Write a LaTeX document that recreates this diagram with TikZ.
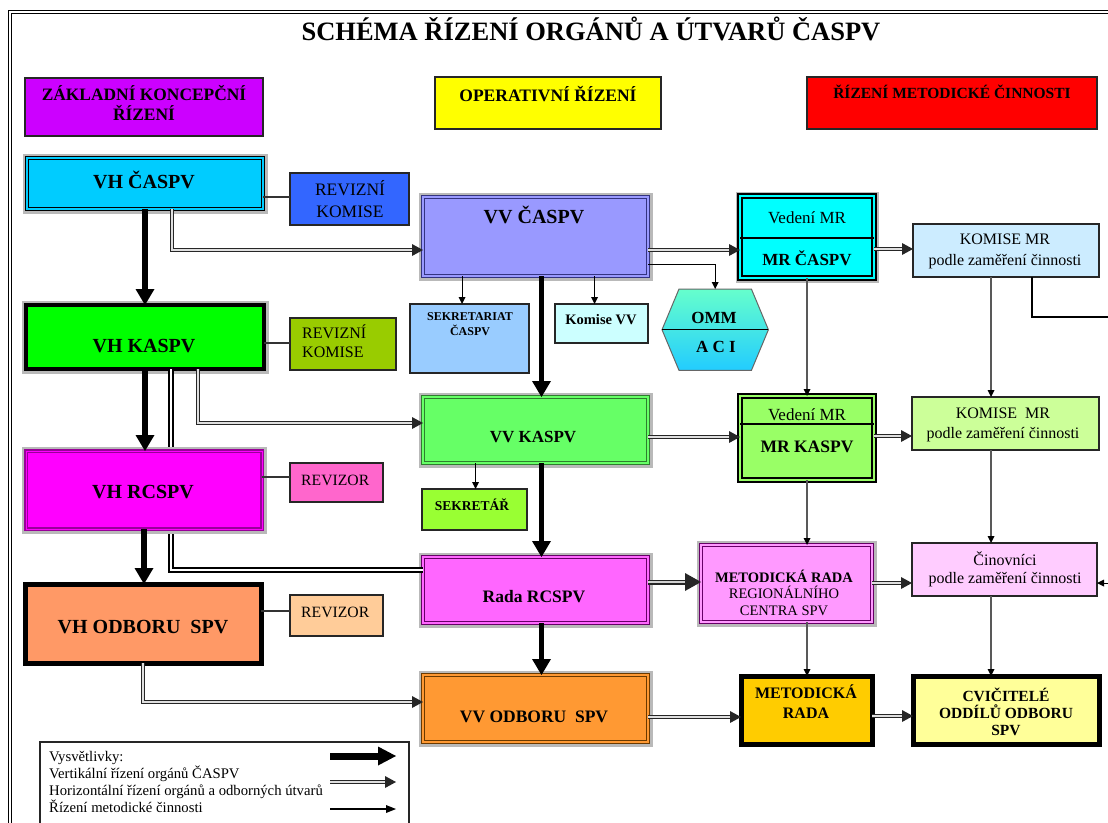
\documentclass[tikz,border=0pt]{standalone}
\usepackage{fontspec}
\setmainfont{Liberation Serif}
\usetikzlibrary{arrows.meta,calc}
\definecolor{cPur}{HTML}{CC00FF}
\definecolor{cYel}{HTML}{FFFF00}
\definecolor{cRed}{HTML}{FF0000}
\definecolor{cVhc}{HTML}{00CCFF}
\definecolor{cRk1}{HTML}{3366FF}
\definecolor{cVhk}{HTML}{00FF00}
\definecolor{cRk2}{HTML}{99CC00}
\definecolor{cVhr}{HTML}{FF00FF}
\definecolor{cRv1}{HTML}{FF66CC}
\definecolor{cVho}{HTML}{FF9966}
\definecolor{cRv2}{HTML}{FFCC99}
\definecolor{cVvc}{HTML}{9999FF}
\definecolor{cSek}{HTML}{99CCFF}
\definecolor{cKvv}{HTML}{CCFFFF}
\definecolor{cHexT}{HTML}{66FFCC}
\definecolor{cHexB}{HTML}{22CCFF}
\definecolor{cVvk}{HTML}{66FF66}
\definecolor{cSk}{HTML}{99FF33}
\definecolor{cRada}{HTML}{FF66FF}
\definecolor{cVvo}{HTML}{FF9933}
\definecolor{cMrc}{HTML}{00FFFF}
\definecolor{cMrk}{HTML}{99FF66}
\definecolor{cMrr}{HTML}{FF99FF}
\definecolor{cMr}{HTML}{FFCC00}
\definecolor{cKm1}{HTML}{CCECFF}
\definecolor{cKm2}{HTML}{CCFF99}
\definecolor{cCin}{HTML}{FFCCFF}
\definecolor{cCvi}{HTML}{FFFF99}
\definecolor{bBlue}{HTML}{333380}
\definecolor{bGreen}{HTML}{2E7D2E}
\definecolor{bPur}{HTML}{660066}
\definecolor{bPur2}{HTML}{990099}
\definecolor{bBrown}{HTML}{6B3A00}
\newcommand\fsz[2]{\fontsize{#1pt}{#2pt}\selectfont}
\newcommand\mkbox[6][]{\node[bx,#1,minimum width={(#5-#3)*1pt},minimum height={(#6-#4)*1pt}] (#2) at (#3,#4) {};}
\newcommand\halo[4]{\draw[gray!55,line width=9pt] (#1,#2) rectangle (#3,#4);}
\newcommand\dconn[3]{\draw[#1] #3; \draw[#2] #3;}
\tikzset{
  bx/.style={rectangle, inner sep=0pt, outer sep=0pt, anchor=north west, draw=black!85, line width=1.2pt},
  tx/.style={inner sep=0pt, anchor=base, align=center},
  txl/.style={inner sep=0pt, anchor=base west, align=left},
  ln/.style={draw=black!80, line width=1.2pt},
  vth/.style={draw=black, line width=5.5pt, -{Triangle[length=16pt,width=19pt,line width=0pt]}},
  tha/.style={draw=black!65, line width=1.3pt, -{Triangle[length=7pt,width=7pt,line width=0pt,color=black]}},
  thb/.style={draw=black, line width=1pt, -{Triangle[length=7pt,width=7pt,line width=0pt]}},
  dO/.style={draw=black!85, line width=4pt, -{Triangle[length=11pt,width=12pt,line width=0pt]}},
  dI/.style={draw=gray!25, line width=1.4pt, shorten >=11pt},
  dOB/.style={draw=black!85, line width=5pt, -{Triangle[length=16pt,width=18pt,line width=0pt]}},
  dIB/.style={draw=gray!35, line width=1.6pt, shorten >=16pt},
  dON/.style={draw=black, line width=6pt},
  dIN/.style={draw=white, line width=2pt},
}
\begin{document}
\begin{tikzpicture}[x=1pt,y=-1pt]
\useasboundingbox (0,0) rectangle (1108,822);
% outer frame
\draw[line width=1.2pt, double, double distance=2pt] (10,12) rectangle (1130,850);
\node[tx,font=\bfseries\fsz{26.5}{30}] (title) at (591,40) {SCHÉMA ŘÍZENÍ ORGÁNŮ A ÚTVARŮ ČASPV};

% headers
\mkbox[fill=cPur]{h1}{25}{78}{263}{136}
\mkbox[fill=cYel]{h2}{435}{77}{661}{129}
\mkbox[fill=cRed]{h3}{807}{77}{1097}{129}
\node[tx,font=\bfseries\fsz{17.4}{20}] (th1) at (144,120) {ZÁKLADNÍ KONCEPČNÍ\\ŘÍZENÍ};
\node[tx,font=\bfseries\fsz{17.5}{20}] (th2) at (548,101) {OPERATIVNÍ ŘÍZENÍ};
\node[tx,font=\bfseries\fsz{15.5}{18}] (th3) at (952,98) {ŘÍZENÍ METODICKÉ ČINNOSTI};

% left column
\halo{27}{158}{263}{209}
\mkbox[fill=cVhc,draw=black,line width=1.6pt,double=cVhc,double distance=1.3pt]{vhc}{27}{158}{263}{209}
\mkbox[fill=cRk1]{rk1}{290}{173}{409}{225}
\halo{26}{305}{264}{369}
\mkbox[fill=cVhk,draw=black,line width=4.5pt]{vhk}{26}{305}{264}{369}
\mkbox[fill=cRk2]{rk2}{290}{318}{396}{370}

% long double connector VH KASPV -> Rada RCSPV (passes behind VH RCSPV)
\halo{423}{557}{648}{623}
\mkbox[fill=cRada,draw=bPur,line width=1.2pt,double=cRada,double distance=1.2pt]{rada}{423}{557}{648}{623}
\coordinate (c3) at ($(vhk.south)+(26,0)$);
\coordinate (c3e) at ($(rada.west)+(0,-20)$);
\dconn{dON}{dIN}{(c3) |- (c3e)}

\halo{26}{451}{262}{529}
\mkbox[fill=cVhr,draw=bPur2,line width=1.3pt,double=cVhr,double distance=1pt]{vhr}{26}{451}{262}{529}
\mkbox[fill=cRv1]{rv1}{290}{463}{383}{502}
\mkbox[fill=cVho,draw=black,line width=5pt]{vho}{25}{584}{261}{663}
\mkbox[fill=cRv2]{rv2}{290}{595}{383}{636}

% middle column
\halo{423}{197}{648}{276}
\mkbox[fill=cVvc,draw=bBlue,line width=1.2pt,double=cVvc,double distance=1.2pt]{vvc}{423}{197}{648}{276}
\mkbox[fill=cSek]{sek}{410}{304}{529}{373}
\mkbox[fill=cKvv]{kvv}{555}{304}{648}{343}
\node[rectangle,inner sep=0pt,anchor=north west,minimum width=106pt,minimum height=81pt] (omm) at (662,289) {};
\path[draw=black!60,line width=1pt,top color=cHexT,bottom color=cHexB]
  ($(omm.north west)+(17,0)$) -- ($(omm.north east)+(-17,0)$) -- (omm.east)
  -- ($(omm.south east)+(-17,0)$) -- ($(omm.south west)+(17,0)$) -- (omm.west) -- cycle;
\draw[black,line width=1pt] (omm.west) -- (omm.east);
\halo{423}{397}{648}{463}
\mkbox[fill=cVvk,draw=bGreen,line width=1.2pt,double=cVvk,double distance=1.2pt]{vvk}{423}{397}{648}{463}
\mkbox[fill=cSk]{sk}{422}{489}{527}{530}
\halo{423}{675}{648}{742}
\mkbox[fill=cVvo,draw=bBrown,line width=1.2pt,double=cVvo,double distance=1.2pt]{vvo}{423}{675}{648}{742}

% right-middle column
\halo{740}{196}{874}{278}
\mkbox[fill=cMrc,draw=black,line width=1.8pt,double=cMrc,double distance=1.5pt]{mrc}{740}{196}{874}{278}
\draw[black,line width=1.2pt] ($(mrc.north west)+(0,42)$) -- ($(mrc.north east)+(0,42)$);
\mkbox[fill=cMrk,draw=black,line width=2.2pt,double=cMrk,double distance=1.5pt]{mrk}{740}{396}{874}{480}
\draw[black,line width=1.2pt] ($(mrk.north west)+(0,28)$) -- ($(mrk.north east)+(0,28)$);
\halo{701}{545}{872}{622}
\mkbox[fill=cMrr,draw=bPur,line width=1.2pt,double=cMrr,double distance=1.2pt]{mrr}{701}{545}{872}{622}
\mkbox[fill=cMr,draw=black,line width=5pt]{mr}{741}{676}{872}{744}

% right column
\mkbox[fill=cKm1]{km1}{913}{224}{1099}{277}
\mkbox[fill=cKm2]{km2}{912}{397}{1099}{450}
\mkbox[fill=cCin]{cin}{912}{543}{1097}{596}
\mkbox[fill=cCvi,draw=black,line width=5pt]{cvi}{913}{676}{1099}{744}

% legend box
\mkbox[fill=white,draw=black!85,line width=1.2pt]{leg}{40}{742}{409}{840}

% ---- connectors ----
\coordinate (k1) at ($(rk1.west)+(0,-2)$);
\draw[ln] (vhc.east |- k1) -- (k1);
\coordinate (k2) at ($(rk2.west)+(0,-1)$);
\draw[ln] (vhk.east |- k2) -- (k2);
\coordinate (k3) at ($(rv1.west)+(0,-5.5)$);
\draw[ln] (vhr.east |- k3) -- (k3);
\coordinate (k4) at ($(rv2.west)+(0,-4.5)$);
\draw[ln] (vho.east |- k4) -- (k4);

% vertical thick
\draw[vth] (vhc.south) -- (vhk.north);
\draw[vth] (vhk.south) -- (vhk.south |- vhr.north);
\draw[vth] (vhr.south) -- (vhr.south |- vho.north);
\coordinate (m1) at ($(vvc.south)+(6,0)$);
\draw[vth] (m1) -- (m1 |- vvk.north);
\coordinate (m2) at ($(vvk.south)+(6,0)$);
\draw[vth] (m2) -- (m2 |- rada.north);
\coordinate (m3) at ($(rada.south)+(6,0)$);
\draw[vth] (m3) -- (m3 |- vvo.north);

% horizontal double connectors
\coordinate (c1) at ($(vhc.south)+(27,0)$);
\coordinate (c1e) at ($(vvc.west)+(0,13.5)$);
\dconn{dO}{dI}{(c1) |- (c1e)}
\coordinate (c2) at ($(vhk.south)+(53,0)$);
\coordinate (c2e) at ($(vvk.west)+(0,-7)$);
\dconn{dO}{dI}{(c2) |- (c2e)}
\coordinate (c4e) at ($(vvo.west)+(0,-6.5)$);
\dconn{dO}{dI}{(vho.south) |- (c4e)}
\coordinate (c5e) at ($(mrc.west)+(0,13)$);
\dconn{dO}{dI}{(vvc.east |- c5e) -- (c5e)}
\coordinate (c6e) at ($(mrk.west)+(0,-1)$);
\dconn{dO}{dI}{(vvk.east |- c6e) -- (c6e)}
\coordinate (c7e) at ($(mrr.west)+(0,-1.5)$);
\dconn{dOB}{dIB}{(rada.east |- c7e) -- (c7e)}
\coordinate (c8e) at ($(mr.west)+(0,7)$);
\dconn{dO}{dI}{(vvo.east |- c8e) -- (c8e)}
\coordinate (c9e) at ($(km1.west)+(0,-1.5)$);
\dconn{dO}{dI}{(mrc.east |- c9e) -- (c9e)}
\coordinate (c10e) at ($(km2.west)+(0,12.5)$);
\dconn{dO}{dI}{(mrk.east |- c10e) -- (c10e)}
\coordinate (c11e) at ($(cin.west)+(0,13.5)$);
\dconn{dO}{dI}{(mrr.east |- c11e) -- (c11e)}
\coordinate (c12e) at ($(cvi.west)+(0,6)$);
\dconn{dO}{dI}{(mr.east |- c12e) -- (c12e)}

% thin arrows
\coordinate (s1) at ($(vvc.south)+(-73.5,0)$);
\draw[thb] (s1) -- (s1 |- sek.north);
\coordinate (s2) at ($(vvc.south)+(59,0)$);
\draw[thb] (s2) -- (s2 |- kvv.north);
\coordinate (s3) at ($(vvc.east)+(0,27.5)$);
\draw[thb] (s3) -| (omm.north);
\coordinate (s4) at ($(vvk.south)+(-60,0)$);
\draw[thb] (s4) -- (s4 |- sk.north);
\draw[tha] (mrc.south) -- (mrk.north);
\draw[tha] (mrk.south) -- (mrk.south |- mrr.north);
\draw[tha] (mrk.south |- mrr.south) -- (mrk.south |- mr.north);
\coordinate (r1) at ($(km1.south)+(-15,0)$);
\draw[tha] (r1) -- (r1 |- km2.north);
\draw[tha] (r1 |- km2.south) -- (r1 |- cin.north);
\draw[tha] (r1 |- cin.south) -- (r1 |- cvi.north);
\coordinate (r2) at ($(km1.south)+(26,0)$);
\coordinate (edge1) at (1114,317);
\draw[ln,draw=black] (r2) |- (edge1);
\coordinate (edge2) at (1114,583);
\draw[thb] (edge2) -- (cin.east |- edge2);

% legend arrows
\coordinate (lg1) at (330,756); \coordinate (lg1e) at (396,756);
\draw[draw=black, line width=7pt, -{Triangle[length=18pt,width=19pt,line width=0pt]}] (lg1) -- (lg1e);
\coordinate (lg2) at (330,782); \coordinate (lg2e) at (396,782);
\dconn{dO}{dI}{(lg2) -- (lg2e)}
\coordinate (lg3) at (330,809); \coordinate (lg3e) at (396,809);
\draw[draw=black, line width=1.5pt, -{Triangle[length=10pt,width=8pt,line width=0pt]}] (lg3) -- (lg3e);

% ---- texts (multi-line nodes: base = last line) ----
\node[tx,font=\bfseries\fsz{20}{24}] (tvhc) at (144,188) {VH ČASPV};
\node[tx,font=\fsz{17.5}{22}] (trk1) at (350,217) {REVIZNÍ\\KOMISE};
\node[tx,font=\bfseries\fsz{20}{24}] (tvhk) at (144,352) {VH KASPV};
\node[txl,font=\fsz{16}{19}] (trk2) at (302,357) {REVIZNÍ\\KOMISE};
\node[tx,font=\bfseries\fsz{20}{24}] (tvhr) at (143,498) {VH RCSPV};
\node[txl,font=\fsz{15.7}{19}] (trv1) at (301,485) {REVIZOR};
\node[tx,font=\bfseries\fsz{20}{24}] (tvho) at (143,633) {VH ODBORU\ \ SPV};
\node[txl,font=\fsz{15.7}{19}] (trv2) at (301,617) {REVIZOR};
\node[tx,font=\bfseries\fsz{20}{24}] (tvvc) at (534,223) {VV ČASPV};
\node[tx,font=\bfseries\fsz{12}{15}] (tsek) at (470,335) {SEKRETARIAT\\ČASPV};
\node[tx,font=\bfseries\fsz{14.5}{17}] (tkvv) at (601,324) {Komise VV};
\node[tx,font=\bfseries\fsz{17}{20}] (tomm) at (714,323) {OMM};
\node[tx,font=\bfseries\fsz{17}{20}] (taci) at (716,352) {A C I};
\node[tx,font=\bfseries\fsz{17}{20}] (tvvk) at (533,442) {VV KASPV};
\node[tx,font=\bfseries\fsz{13.5}{16}] (tsk) at (472,510) {SEKRETÁŘ};
\node[tx,font=\bfseries\fsz{17.5}{20}] (trada) at (534,602) {Rada RCSPV};
\node[tx,font=\bfseries\fsz{17.5}{20}] (tvvo) at (534,722) {VV ODBORU\ \ SPV};
\node[tx,font=\fsz{17}{20}] (tmrc1) at (807,223) {Vedení MR};
\node[tx,font=\bfseries\fsz{17}{20}] (tmrc2) at (807,265) {MR ČASPV};
\node[tx,font=\fsz{16}{21}] (tkm1) at (1005,265) {KOMISE MR\\podle zaměření činnosti};
\node[tx,font=\fsz{17}{20}] (tmrk1) at (807,420) {Vedení MR};
\node[tx,font=\bfseries\fsz{17.5}{20}] (tmrk2) at (807,452) {MR KASPV};
\node[tx,font=\fsz{16}{20}] (tkm2) at (1003,438) {KOMISE\ \ MR\\podle zaměření činnosti};
\node[tx,font=\fsz{14.5}{16.5}] (tmrr) at (784,615) {{\bfseries METODICKÁ RADA}\\REGIONÁLNÍHO\\CENTRA SPV};
\node[tx,font=\fsz{16}{18}] (tcin) at (1005,583) {Činovníci\\podle zaměření činnosti};
\node[tx,font=\bfseries\fsz{16}{20}] (tmr) at (806,718) {METODICKÁ\\RADA};
\node[tx,font=\bfseries\fsz{15.5}{17}] (tcvi) at (1006,735) {CVIČITELÉ\\ODDÍLŮ ODBORU\\SPV};
\node[txl,font=\fsz{14.7}{16.7}] (tleg) at (49,812) {Vysvětlivky:\\Vertikální řízení orgánů ČASPV\\Horizontální řízení orgánů a odborných útvarů\\Řízení metodické činnosti};
\end{tikzpicture}
\end{document}
